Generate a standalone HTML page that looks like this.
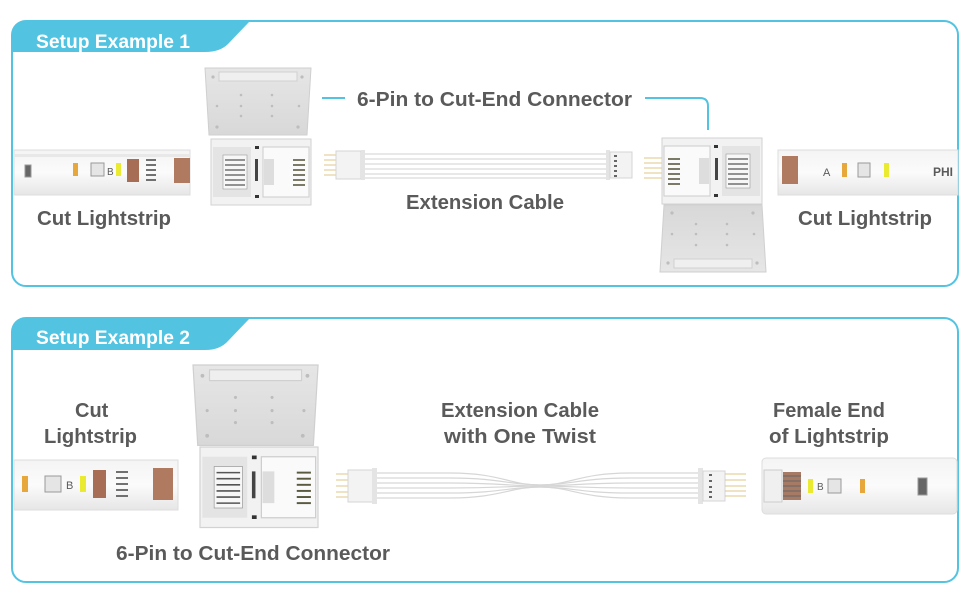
<!DOCTYPE html>
<html><head><meta charset="utf-8"><style>
html,body{margin:0;padding:0;background:#fff;}
svg{display:block;}
text{font-family:"Liberation Sans",sans-serif;font-weight:bold;fill:#5a5a5a;}
</style></head><body>
<svg width="970" height="600" viewBox="0 0 970 600" xmlns="http://www.w3.org/2000/svg">
<defs>
<linearGradient id="strip" x1="0" y1="0" x2="0" y2="1">
<stop offset="0" stop-color="#f4f4f4"/><stop offset="0.5" stop-color="#fbfbfb"/><stop offset="1" stop-color="#e6e6e6"/></linearGradient>
<linearGradient id="lid" x1="0" y1="0" x2="0" y2="1">
<stop offset="0" stop-color="#e6e6e6"/><stop offset="1" stop-color="#d8d8d8"/></linearGradient>
<g id="lidU">
<path d="M0,0 L106,0 L102,67 L4,67 Z" fill="url(#lid)" stroke="#cfcfcf"/>
<rect x="14" y="4" width="78" height="9" fill="#efefef" stroke="#d0d0d0"/>
<g fill="#bdbdbd"><circle cx="8" cy="9" r="1.6"/><circle cx="97" cy="9" r="1.6"/><circle cx="36" cy="27" r="1.3"/><circle cx="67" cy="27" r="1.3"/><circle cx="12" cy="38" r="1.3"/><circle cx="36" cy="38" r="1.3"/><circle cx="67" cy="38" r="1.3"/><circle cx="94" cy="38" r="1.3"/><circle cx="36" cy="48" r="1.3"/><circle cx="67" cy="48" r="1.3"/><circle cx="12" cy="59" r="1.6"/><circle cx="93" cy="59" r="1.6"/></g>
</g>
<g id="base">
<rect x="0" y="0" width="100" height="66" fill="#f2f2f2" stroke="#d2d2d2"/>
<rect x="2" y="8" width="38" height="50" fill="#e4e4e4"/>
<rect x="12" y="16" width="24" height="34" fill="#f7f7f7" stroke="#9a9a9a" stroke-width="0.6"/>
<g stroke="#555" stroke-width="1.3"><line x1="14" y1="21" x2="34" y2="21"/><line x1="14" y1="26" x2="34" y2="26"/><line x1="14" y1="31" x2="34" y2="31"/><line x1="14" y1="36" x2="34" y2="36"/><line x1="14" y1="41" x2="34" y2="41"/><line x1="14" y1="46" x2="34" y2="46"/></g>
<rect x="44" y="20" width="3" height="22" fill="#444"/>
<rect x="52" y="8" width="46" height="50" fill="#fafafa" stroke="#ccc"/>
<g stroke="#5a5a40" stroke-width="1.6"><line x1="82" y1="21" x2="94" y2="21"/><line x1="82" y1="26" x2="94" y2="26"/><line x1="82" y1="31" x2="94" y2="31"/><line x1="82" y1="36" x2="94" y2="36"/><line x1="82" y1="41" x2="94" y2="41"/><line x1="82" y1="46" x2="94" y2="46"/></g>
<rect x="53" y="20" width="10" height="26" fill="#ddd"/>
<rect x="44" y="7" width="4" height="3" fill="#333"/><rect x="44" y="56" width="4" height="3" fill="#333"/>
</g>
</defs>

<!-- Panel 1 -->
<rect x="12" y="21" width="946" height="265" rx="14" fill="#fff" stroke="#52c3e1" stroke-width="2"/>
<path d="M12,52 L12,35 Q12,21 26,21 L250,21 L228,44 Q220,52 205,52 Z" fill="#52c3e1"/>
<text x="36" y="48" font-size="19" textLength="154" lengthAdjust="spacingAndGlyphs" style="fill:#fff">Setup Example 1</text>

<!-- Panel 2 -->
<rect x="12" y="318" width="946" height="264" rx="14" fill="#fff" stroke="#52c3e1" stroke-width="2"/>
<path d="M12,350 L12,332 Q12,318 26,318 L250,318 L228,341 Q220,350 205,350 Z" fill="#52c3e1"/>
<text x="36" y="344" font-size="19" textLength="154" lengthAdjust="spacingAndGlyphs" style="fill:#fff">Setup Example 2</text>

<!-- Ex1 left strip -->
<rect x="14" y="150" width="176" height="45" fill="url(#strip)" stroke="#ddd"/>
<rect x="14" y="154" width="176" height="3" fill="#e8e8e8"/>
<rect x="25" y="165" width="6" height="12" fill="#666" stroke="#999"/>
<rect x="73" y="163" width="5" height="13" fill="#e8a73a"/>
<rect x="91" y="163" width="13" height="13" fill="#e5e5e5" stroke="#999"/>
<text x="107" y="175" font-size="10" style="font-weight:normal">B</text>
<rect x="116" y="163" width="5" height="13" fill="#eaea30"/>
<rect x="127" y="159" width="12" height="23" fill="#a76e55"/>
<g stroke="#444" stroke-width="1.5"><line x1="146" y1="160" x2="156" y2="160"/><line x1="146" y1="165" x2="156" y2="165"/><line x1="146" y1="170" x2="156" y2="170"/><line x1="146" y1="175" x2="156" y2="175"/><line x1="146" y1="180" x2="156" y2="180"/></g>
<rect x="174" y="158" width="16" height="25" fill="#b07a60"/>
<text x="37" y="225" font-size="20" textLength="134" lengthAdjust="spacingAndGlyphs">Cut Lightstrip</text>

<!-- Ex1 left connector -->
<use href="#lidU" x="205" y="68"/>
<use href="#base" x="211" y="139"/>

<!-- leader -->
<path d="M322,98 L345,98 M645,98 L700,98 Q708,98 708,106 L708,130" fill="none" stroke="#52c3e1" stroke-width="2"/>
<text x="357" y="106" font-size="20" textLength="275" lengthAdjust="spacingAndGlyphs">6-Pin to Cut-End Connector</text>

<!-- Ex1 cable -->
<g stroke="#e0c78a" stroke-width="1"><line x1="324" y1="155" x2="336" y2="155"/><line x1="324" y1="160" x2="336" y2="160"/><line x1="324" y1="165" x2="336" y2="165"/><line x1="324" y1="170" x2="336" y2="170"/><line x1="324" y1="175" x2="336" y2="175"/></g>
<rect x="336" y="151" width="25" height="28" fill="#f3f3f3" stroke="#d5d5d5"/>
<rect x="361" y="150" width="4" height="30" fill="#e4e4e4"/>
<g stroke="#d9d9d9" stroke-width="1.3"><line x1="365" y1="154" x2="606" y2="154"/><line x1="365" y1="159" x2="606" y2="159"/><line x1="365" y1="164" x2="606" y2="164"/><line x1="365" y1="169" x2="606" y2="169"/><line x1="365" y1="174" x2="606" y2="174"/><line x1="365" y1="178" x2="606" y2="178"/></g>
<rect x="606" y="150" width="4" height="30" fill="#e4e4e4"/>
<rect x="610" y="152" width="22" height="26" fill="#f3f3f3" stroke="#d5d5d5"/>
<g fill="#666"><rect x="614" y="155" width="3" height="2"/><rect x="614" y="160" width="3" height="2"/><rect x="614" y="165" width="3" height="2"/><rect x="614" y="170" width="3" height="2"/><rect x="614" y="175" width="3" height="2"/></g>
<text x="406" y="209" font-size="20" textLength="158" lengthAdjust="spacingAndGlyphs">Extension Cable</text>

<!-- Ex1 right connector -->
<g stroke="#e0c78a" stroke-width="1"><line x1="644" y1="158" x2="662" y2="158"/><line x1="644" y1="163" x2="662" y2="163"/><line x1="644" y1="168" x2="662" y2="168"/><line x1="644" y1="173" x2="662" y2="173"/><line x1="644" y1="178" x2="662" y2="178"/></g>
<g transform="translate(762,138) scale(-1,1)"><use href="#base"/></g>
<g transform="translate(660,270) scale(1,-1) translate(0,-2)"><use href="#lidU"/></g>

<!-- Ex1 right strip -->
<rect x="778" y="150" width="180" height="45" fill="url(#strip)" stroke="#ddd"/>
<rect x="782" y="156" width="16" height="28" fill="#b07a60"/>
<text x="823" y="176" font-size="11" style="font-weight:normal">A</text>
<rect x="842" y="163" width="5" height="14" fill="#e8a73a"/>
<rect x="858" y="163" width="12" height="14" fill="#e5e5e5" stroke="#999"/>
<rect x="884" y="163" width="5" height="14" fill="#eaea30"/>
<text x="933" y="176" font-size="12">PHI</text>
<text x="798" y="225" font-size="20" textLength="134" lengthAdjust="spacingAndGlyphs">Cut Lightstrip</text>

<!-- Ex2 left strip -->
<text x="75" y="417" font-size="20">Cut</text>
<text x="44" y="443" font-size="20" textLength="93" lengthAdjust="spacingAndGlyphs">Lightstrip</text>
<rect x="14" y="460" width="164" height="50" fill="url(#strip)" stroke="#ddd"/>
<rect x="22" y="476" width="6" height="16" fill="#e8a73a"/>
<rect x="45" y="476" width="16" height="16" fill="#e5e5e5" stroke="#999"/>
<text x="66" y="489" font-size="11" style="font-weight:normal">B</text>
<rect x="80" y="476" width="6" height="16" fill="#eaea30"/>
<rect x="93" y="470" width="13" height="28" fill="#a76e55"/>
<g stroke="#444" stroke-width="1.5"><line x1="116" y1="472" x2="128" y2="472"/><line x1="116" y1="478" x2="128" y2="478"/><line x1="116" y1="484" x2="128" y2="484"/><line x1="116" y1="490" x2="128" y2="490"/><line x1="116" y1="496" x2="128" y2="496"/></g>
<rect x="153" y="468" width="20" height="32" fill="#b07a60"/>

<!-- Ex2 connector -->
<g transform="translate(193,365) scale(1.18,1.2)"><use href="#lidU"/></g>
<g transform="translate(200,447) scale(1.18,1.22)"><use href="#base"/></g>
<text x="116" y="560" font-size="20" textLength="274" lengthAdjust="spacingAndGlyphs">6-Pin to Cut-End Connector</text>

<!-- Ex2 cable -->
<text x="441" y="417" font-size="20" textLength="158" lengthAdjust="spacingAndGlyphs">Extension Cable</text>
<text x="444" y="443" font-size="20" textLength="152" lengthAdjust="spacingAndGlyphs">with One Twist</text>
<g stroke="#e0c78a" stroke-width="1"><line x1="336" y1="474" x2="348" y2="474"/><line x1="336" y1="480" x2="348" y2="480"/><line x1="336" y1="486" x2="348" y2="486"/><line x1="336" y1="492" x2="348" y2="492"/><line x1="336" y1="497" x2="348" y2="497"/></g>
<rect x="348" y="470" width="25" height="32" fill="#f3f3f3" stroke="#d5d5d5"/>
<rect x="372" y="468" width="5" height="36" fill="#e4e4e4"/>
<g fill="none" stroke="#d6d6d6" stroke-width="1.2">
<path d="M377,473 L450,473 C500,473 510,485 540,485 C570,485 580,473 630,473 L698,473"/>
<path d="M377,478 L450,478 C500,478 510,485 540,485 C570,485 580,478 630,478 L698,478"/>
<path d="M377,483 L450,483 C500,483 510,486 540,486 C570,486 580,483 630,483 L698,483"/>
<path d="M377,488 L450,488 C500,488 510,486 540,486 C570,486 580,488 630,488 L698,488"/>
<path d="M377,493 L450,493 C500,493 510,487 540,487 C570,487 580,493 630,493 L698,493"/>
<path d="M377,498 L450,498 C500,498 510,487 540,487 C570,487 580,498 630,498 L698,498"/>
</g>
<rect x="698" y="468" width="5" height="36" fill="#e4e4e4"/>
<rect x="703" y="471" width="22" height="30" fill="#f3f3f3" stroke="#d5d5d5"/>
<g fill="#666"><rect x="709" y="474" width="3" height="2"/><rect x="709" y="480" width="3" height="2"/><rect x="709" y="486" width="3" height="2"/><rect x="709" y="491" width="3" height="2"/><rect x="709" y="496" width="3" height="2"/></g>
<g stroke="#e0c78a" stroke-width="1"><line x1="725" y1="474" x2="746" y2="474"/><line x1="725" y1="480" x2="746" y2="480"/><line x1="725" y1="486" x2="746" y2="486"/><line x1="725" y1="491" x2="746" y2="491"/><line x1="725" y1="496" x2="746" y2="496"/></g>

<!-- Ex2 right female strip -->
<text x="773" y="417" font-size="20" textLength="112" lengthAdjust="spacingAndGlyphs">Female End</text>
<text x="769" y="443" font-size="20" textLength="120" lengthAdjust="spacingAndGlyphs">of Lightstrip</text>
<rect x="762" y="458" width="195" height="56" rx="4" fill="url(#strip)" stroke="#ddd"/>
<rect x="764" y="470" width="18" height="32" fill="#f0f0f0" stroke="#ccc"/>
<rect x="783" y="472" width="18" height="28" fill="#a77a66"/>
<g stroke="#666" stroke-width="1"><line x1="783" y1="476" x2="801" y2="476"/><line x1="783" y1="481" x2="801" y2="481"/><line x1="783" y1="486" x2="801" y2="486"/><line x1="783" y1="491" x2="801" y2="491"/><line x1="783" y1="496" x2="801" y2="496"/></g>
<rect x="808" y="479" width="5" height="14" fill="#eaea30"/>
<text x="817" y="490" font-size="10" style="font-weight:normal">B</text>
<rect x="828" y="479" width="13" height="14" fill="#e5e5e5" stroke="#999"/>
<rect x="860" y="479" width="5" height="14" fill="#e8a73a"/>
<rect x="918" y="478" width="9" height="17" fill="#666" stroke="#999"/>
</svg>
</body></html>
